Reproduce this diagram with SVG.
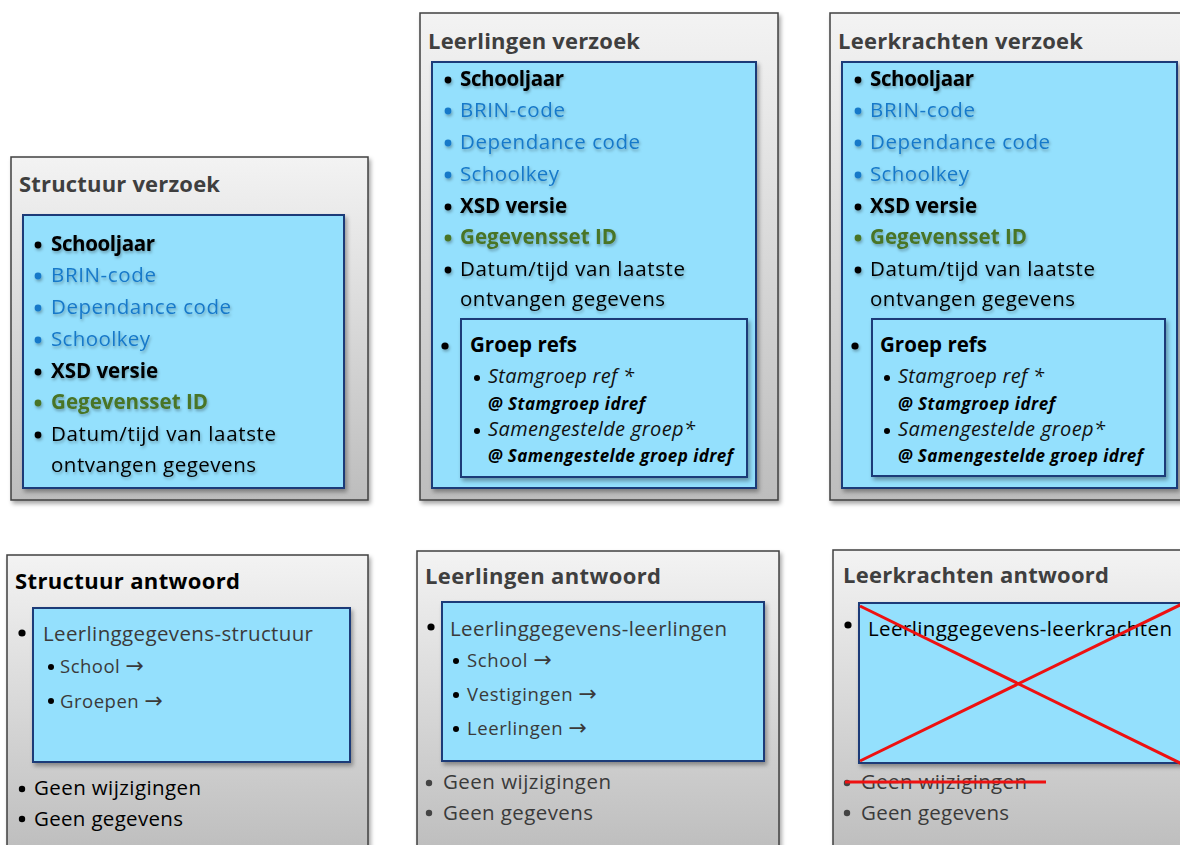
<svg xmlns="http://www.w3.org/2000/svg" width="1180" height="845" viewBox="0 0 1180 845">
<defs>
<linearGradient id="gray" x1="0" y1="0" x2="0" y2="1">
<stop offset="0" stop-color="#f3f3f3"/>
<stop offset="1" stop-color="#bdbdbd"/>
</linearGradient>
<filter id="sh" x="-5%" y="-5%" width="112%" height="112%">
<feDropShadow dx="2" dy="3" stdDeviation="2" flood-color="#000" flood-opacity="0.35"/>
</filter>
<filter id="tsh" x="-5%" y="-20%" width="115%" height="150%">
<feDropShadow dx="1" dy="2" stdDeviation="1.5" flood-color="#000" flood-opacity="0.3"/>
</filter>
</defs>
<style>
.outer{fill:url(#gray);stroke:#404040;stroke-width:1.5}
.inner{fill:#94e0fd;stroke:#1d3a78;stroke-width:2}
text{font-family:"Open Sans","Noto Sans","Liberation Sans",sans-serif;font-size:20.5px}
.title{font-weight:bold;fill:#3f3f3f;font-size:22px}
.blk{fill:#000}
.b{font-weight:bold}
.blue{fill:#1879c9}
.green{fill:#4a7426;font-weight:bold}
.gr{fill:#3a3a3a}
.it{font-style:italic;font-size:20px;fill:#111}
.bi{font-style:italic;font-weight:bold;font-size:17px;fill:#000}
.sub{font-size:18.5px;fill:#3a3a3a}
.ar{font-family:"DejaVu Sans",sans-serif;font-size:22px}
.dot{fill:#000}
.bd{fill:#1879c9}
.gd{fill:#4a7426}
.red{stroke:#ee1111;stroke-width:3;fill:none}
</style>

<g id="structuur-verzoek">
<rect class="outer" x="11" y="157" width="357" height="343" filter="url(#sh)"/>
<text class="title" x="19" y="192" textLength="201" lengthAdjust="spacing">Structuur verzoek</text>
<rect class="inner" x="23" y="215" width="321" height="273" filter="url(#sh)"/>
<g filter="url(#tsh)">
<circle class="dot" cx="38" cy="245" r="3.4"/><text class="blk b" x="51" y="251" textLength="104" lengthAdjust="spacing">Schooljaar</text>
<circle class="bd" cx="38" cy="276" r="3.4"/><text class="blue" x="51" y="282" textLength="105" lengthAdjust="spacing">BRIN-code</text>
<circle class="bd" cx="38" cy="308" r="3.4"/><text class="blue" x="51" y="314" textLength="180" lengthAdjust="spacing">Dependance  code</text>
<circle class="bd" cx="38" cy="340" r="3.4"/><text class="blue" x="51" y="346" textLength="99" lengthAdjust="spacing">Schoolkey</text>
<circle class="dot" cx="38" cy="372" r="3.4"/><text class="blk b" x="51" y="378" textLength="107" lengthAdjust="spacing">XSD versie</text>
<circle class="gd" cx="38" cy="403" r="3.4"/><text class="green" x="51" y="409" textLength="157" lengthAdjust="spacing">Gegevensset ID</text>
<circle class="dot" cx="38" cy="435" r="3.4"/><text class="blk" x="51" y="441" textLength="225" lengthAdjust="spacing">Datum/tijd van laatste</text>
<text class="blk" x="51" y="472" textLength="205" lengthAdjust="spacing">ontvangen  gegevens</text>
</g>
</g>

<g id="leerlingen-verzoek">
<rect class="outer" x="420" y="13" width="358" height="487" filter="url(#sh)"/>
<text class="title" x="428" y="49" textLength="212" lengthAdjust="spacing">Leerlingen verzoek</text>
<rect class="inner" x="432" y="62" width="324" height="426" filter="url(#sh)"/>
<g filter="url(#tsh)">
<circle class="dot" cx="448" cy="80" r="3.4"/><text class="blk b" x="460" y="86" textLength="104" lengthAdjust="spacing">Schooljaar</text>
<circle class="bd" cx="448" cy="111" r="3.4"/><text class="blue" x="460" y="117" textLength="105" lengthAdjust="spacing">BRIN-code</text>
<circle class="bd" cx="448" cy="143" r="3.4"/><text class="blue" x="460" y="149" textLength="180" lengthAdjust="spacing">Dependance  code</text>
<circle class="bd" cx="448" cy="175" r="3.4"/><text class="blue" x="460" y="181" textLength="99" lengthAdjust="spacing">Schoolkey</text>
<circle class="dot" cx="448" cy="207" r="3.4"/><text class="blk b" x="460" y="213" textLength="107" lengthAdjust="spacing">XSD versie</text>
<circle class="gd" cx="448" cy="238" r="3.4"/><text class="green" x="460" y="244" textLength="157" lengthAdjust="spacing">Gegevensset ID</text>
<circle class="dot" cx="448" cy="270" r="3.4"/><text class="blk" x="460" y="276" textLength="225" lengthAdjust="spacing">Datum/tijd van laatste</text>
<text class="blk" x="460" y="306" textLength="205" lengthAdjust="spacing">ontvangen  gegevens</text>
<circle class="dot" cx="445" cy="346" r="3.6"/>
</g>
<rect class="inner" x="461" y="319" width="286" height="158" filter="url(#sh)"/>
<text class="blk b" x="470" y="352" textLength="107" lengthAdjust="spacing">Groep refs</text>
<circle class="dot" cx="477" cy="378" r="3"/><text class="it" x="488" y="383" textLength="146" lengthAdjust="spacing">Stamgroep ref *</text>
<text class="bi" x="488" y="410" textLength="157" lengthAdjust="spacing">@ Stamgroep idref</text>
<circle class="dot" cx="477" cy="431" r="3"/><text class="it" x="488" y="436" textLength="207" lengthAdjust="spacing">Samengestelde groep*</text>
<text class="bi" x="488" y="462" textLength="245" lengthAdjust="spacing">@ Samengestelde groep idref</text>
</g>

<g id="leerkrachten-verzoek">
<rect class="outer" x="830" y="13" width="360" height="487" filter="url(#sh)"/>
<text class="title" x="838" y="49" textLength="245" lengthAdjust="spacing">Leerkrachten verzoek</text>
<rect class="inner" x="842" y="62" width="335" height="426" filter="url(#sh)"/>
<g filter="url(#tsh)">
<circle class="dot" cx="858" cy="80" r="3.4"/><text class="blk b" x="870" y="86" textLength="104" lengthAdjust="spacing">Schooljaar</text>
<circle class="bd" cx="858" cy="111" r="3.4"/><text class="blue" x="870" y="117" textLength="105" lengthAdjust="spacing">BRIN-code</text>
<circle class="bd" cx="858" cy="143" r="3.4"/><text class="blue" x="870" y="149" textLength="180" lengthAdjust="spacing">Dependance  code</text>
<circle class="bd" cx="858" cy="175" r="3.4"/><text class="blue" x="870" y="181" textLength="99" lengthAdjust="spacing">Schoolkey</text>
<circle class="dot" cx="858" cy="207" r="3.4"/><text class="blk b" x="870" y="213" textLength="107" lengthAdjust="spacing">XSD versie</text>
<circle class="gd" cx="858" cy="238" r="3.4"/><text class="green" x="870" y="244" textLength="157" lengthAdjust="spacing">Gegevensset ID</text>
<circle class="dot" cx="858" cy="270" r="3.4"/><text class="blk" x="870" y="276" textLength="225" lengthAdjust="spacing">Datum/tijd van laatste</text>
<text class="blk" x="870" y="306" textLength="205" lengthAdjust="spacing">ontvangen  gegevens</text>
<circle class="dot" cx="855" cy="346" r="3.6"/>
</g>
<rect class="inner" x="872" y="319" width="293" height="157" filter="url(#sh)"/>
<text class="blk b" x="880" y="352" textLength="107" lengthAdjust="spacing">Groep refs</text>
<circle class="dot" cx="887" cy="378" r="3"/><text class="it" x="898" y="383" textLength="146" lengthAdjust="spacing">Stamgroep ref *</text>
<text class="bi" x="898" y="410" textLength="157" lengthAdjust="spacing">@ Stamgroep idref</text>
<circle class="dot" cx="887" cy="431" r="3"/><text class="it" x="898" y="436" textLength="207" lengthAdjust="spacing">Samengestelde groep*</text>
<text class="bi" x="898" y="462" textLength="245" lengthAdjust="spacing">@ Samengestelde groep idref</text>
</g>

<g id="structuur-antwoord">
<rect class="outer" x="7" y="555" width="361" height="300" filter="url(#sh)"/>
<text class="title" x="15" y="589" style="fill:#000" textLength="225" lengthAdjust="spacing">Structuur antwoord</text>
<circle class="dot" cx="22" cy="633" r="3.6"/>
<rect class="inner" x="33" y="608" width="317" height="154" filter="url(#sh)"/>
<text class="gr" x="43" y="641" textLength="270" lengthAdjust="spacing">Leerlinggegevens-structuur</text>
<circle class="dot" cx="51" cy="667" r="3"/><text class="sub" x="60" y="673" textLength="84" lengthAdjust="spacing">School <tspan class="ar">→</tspan></text>
<circle class="dot" cx="51" cy="701" r="3"/><text class="sub" x="60" y="708" textLength="103" lengthAdjust="spacing">Groepen <tspan class="ar">→</tspan></text>
<circle class="dot" cx="22" cy="789" r="3.2"/><text class="blk" x="34" y="795" textLength="167" lengthAdjust="spacing">Geen wijzigingen</text>
<circle class="dot" cx="22" cy="819" r="3.2"/><text class="blk" x="34" y="826" textLength="149" lengthAdjust="spacing">Geen gegevens</text>
</g>

<g id="leerlingen-antwoord">
<rect class="outer" x="417" y="551" width="362" height="304" filter="url(#sh)"/>
<text class="title" x="425" y="584" textLength="236" lengthAdjust="spacing">Leerlingen antwoord</text>
<circle class="dot" cx="431" cy="627" r="3.6"/>
<rect class="inner" x="442" y="602" width="322" height="159" filter="url(#sh)"/>
<text class="gr" x="450" y="636" textLength="277" lengthAdjust="spacing">Leerlinggegevens-leerlingen</text>
<circle class="dot" cx="456" cy="661" r="3"/><text class="sub" x="467" y="667" textLength="85" lengthAdjust="spacing">School <tspan class="ar">→</tspan></text>
<circle class="dot" cx="456" cy="695" r="3"/><text class="sub" x="467" y="701" textLength="130" lengthAdjust="spacing">Vestigingen <tspan class="ar">→</tspan></text>
<circle class="dot" cx="456" cy="729" r="3"/><text class="sub" x="467" y="735" textLength="120" lengthAdjust="spacing">Leerlingen <tspan class="ar">→</tspan></text>
<circle style="fill:#444" cx="429" cy="783" r="3.2"/><text class="gr" x="443" y="789" textLength="168" lengthAdjust="spacing">Geen wijzigingen</text>
<circle style="fill:#444" cx="429" cy="813" r="3.2"/><text class="gr" x="443" y="820" textLength="150" lengthAdjust="spacing">Geen gegevens</text>
</g>

<g id="leerkrachten-antwoord">
<rect class="outer" x="833" y="550" width="360" height="305" filter="url(#sh)"/>
<text class="title" x="843" y="583" textLength="266" lengthAdjust="spacing">Leerkrachten antwoord</text>
<circle class="dot" cx="848" cy="625" r="3.6"/>
<rect class="inner" x="859" y="603" width="330" height="160" filter="url(#sh)"/>
<text class="blk" x="868" y="636" textLength="304" lengthAdjust="spacing">Leerlinggegevens-leerkrachten</text>
<line class="red" x1="860" y1="606" x2="1182" y2="764"/>
<line class="red" x1="860" y1="761" x2="1182" y2="604"/>
<circle style="fill:#444" cx="847" cy="783" r="3.2"/><text class="gr" x="861" y="789" textLength="166" lengthAdjust="spacing">Geen wijzigingen</text>
<line class="red" x1="845" y1="782" x2="1046" y2="782"/>
<circle style="fill:#444" cx="847" cy="813" r="3.2"/><text class="gr" x="861" y="820" textLength="148" lengthAdjust="spacing">Geen gegevens</text>
</g>
</svg>
